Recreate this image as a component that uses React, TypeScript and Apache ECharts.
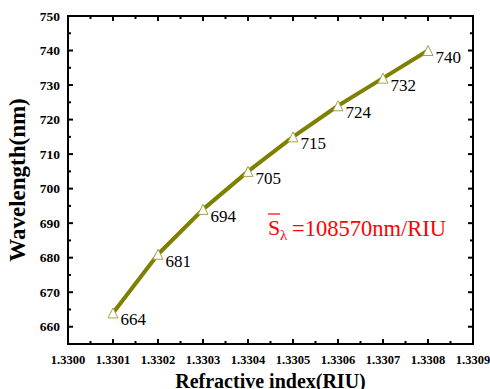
import React, { useEffect, useRef } from "react";
import * as echarts from "echarts";

const refractiveIndex = [1.3301, 1.3302, 1.3303, 1.3304, 1.3305, 1.3306, 1.3307, 1.3308];
const wavelength = [664, 681, 694, 705, 715, 724, 732, 740];
const xMajorTicks = [1.33, 1.3301, 1.3302, 1.3303, 1.3304, 1.3305, 1.3306, 1.3307, 1.3308, 1.3309];
const xMinorTicks = [1.33005, 1.33015, 1.33025, 1.33035, 1.33045, 1.33055, 1.33065, 1.33075, 1.33085];
const yMajorTicks = [660, 670, 680, 690, 700, 710, 720, 730, 740, 750];
const yMinorTicks = [665, 675, 685, 695, 705, 715, 725, 735, 745];
const xTitle = "Refractive index(RIU)";
const yTitle = "Wavelength(nm)";
const sensitivityText = "=108570nm/RIU";

const X_MIN = 1.33;
const X_MAX = 1.3309;
const Y_MIN = 655;
const Y_MAX = 750;

const FONT = "Times New Roman, Liberation Serif, serif";
const INK = "#000000";

export default function App() {
  const ref = useRef<HTMLDivElement>(null);
  useEffect(() => {
    if (!ref.current) return;
    const chart = echarts.init(ref.current, null, { renderer: "svg" });
    const pts = refractiveIndex.map((x, i) => [x, wavelength[i]]);

    const frameAndTicks = (_params: any, api: any) => {
      const tl = api.coord([X_MIN, Y_MAX]);
      const br = api.coord([X_MAX, Y_MIN]);
      const children: any[] = [
        {
          type: "rect",
          shape: { x: tl[0], y: tl[1], width: br[0] - tl[0], height: br[1] - tl[1] },
          style: { fill: "none", stroke: INK, lineWidth: 2 },
          z2: 50,
        },
      ];
      const seg = (x1: number, y1: number, x2: number, y2: number) =>
        children.push({ type: "line", shape: { x1, y1, x2, y2 }, style: { stroke: INK, lineWidth: 2 }, z2: 50 });
      const xt = (vals: number[], len: number) =>
        vals.forEach((v) => {
          const px = api.coord([v, Y_MIN])[0];
          seg(px, br[1], px, br[1] - len);
          seg(px, tl[1], px, tl[1] + len);
        });
      const yt = (vals: number[], len: number) =>
        vals.forEach((v) => {
          const py = api.coord([X_MIN, v])[1];
          seg(tl[0], py, tl[0] + len, py);
          seg(br[0], py, br[0] - len, py);
        });
      xt(xMajorTicks.slice(1, -1), 5);
      xt(xMinorTicks, 3);
      yt(yMajorTicks.slice(0, -1), 5);
      yt(yMinorTicks, 3);
      return { type: "group", children };
    };

    chart.setOption({
      animation: false,
      grid: {
        left: 68,
        right: 17,
        top: 16,
        bottom: 45,
        containLabel: false,
        outerBoundsMode: "none",
        show: true,
        borderColor: INK,
        borderWidth: 2,
        z: 6,
      },
      xAxis: {
        type: "value",
        min: X_MIN,
        max: X_MAX,
        interval: 0.0001,
        axisLine: { show: false },
        axisTick: { show: false },
        splitLine: { show: false },
        axisLabel: {
          formatter: (v: number) => v.toFixed(4),
          fontFamily: FONT,
          fontWeight: "bold",
          fontSize: 12.5,
          color: "#000",
          margin: 9,
          hideOverlap: false,
        },
        name: xTitle,
        nameLocation: "middle",
        nameGap: 22,
        nameTextStyle: { fontFamily: FONT, fontWeight: "bold", fontSize: 20, color: "#000" },
      },
      yAxis: {
        type: "value",
        min: Y_MIN,
        max: Y_MAX,
        axisLine: { show: false },
        axisTick: { show: false },
        splitLine: { show: false },
        axisLabel: {
          customValues: yMajorTicks,
          fontFamily: FONT,
          fontWeight: "bold",
          fontSize: 13.5,
          color: "#000",
          margin: 8,
        },
        name: yTitle,
        nameLocation: "middle",
        nameGap: 36,
        nameTextStyle: { fontFamily: FONT, fontWeight: "bold", fontSize: 23, color: "#000" },
      },
      series: [
        {
          type: "line",
          data: pts,
          lineStyle: { color: "#808000", width: 4 },
          symbol: "triangle",
          symbolSize: 10,
          itemStyle: { color: "#fff", borderColor: "#a3a34a", borderWidth: 1 },
          label: {
            show: true,
            position: "right",
            distance: 2,
            offset: [0, 7],
            formatter: (p: any) => String(p.value[1]),
            fontFamily: FONT,
            fontSize: 17,
            color: "#000",
          },
          z: 3,
        },
        {
          type: "custom",
          data: [[X_MIN, Y_MIN]],
          renderItem: frameAndTicks,
          silent: true,
          clip: false,
          z: 6,
        },
      ],
      graphic: [
        {
          type: "text",
          x: 268,
          y: 227,
          style: { text: "S", font: `22px ${FONT}`, fill: "#ff0000", verticalAlign: "middle", align: "left" },
        },
        {
          type: "line",
          shape: { x1: 268, y1: 214, x2: 280, y2: 214 },
          style: { stroke: "#ff0000", lineWidth: 1.2 },
        },
        {
          type: "text",
          x: 280,
          y: 235,
          style: { text: "λ", font: `15px ${FONT}`, fill: "#ff0000", verticalAlign: "middle", align: "left" },
        },
        {
          type: "text",
          x: 292,
          y: 228,
          style: { text: sensitivityText, font: `22.5px ${FONT}`, fill: "#ff0000", verticalAlign: "middle", align: "left" },
        },
      ],
    });
    return () => chart.dispose();
  }, []);
  return <div ref={ref} style={{ position: "fixed", left: 0, top: 0, width: 490, height: 389, background: "#fff" }} />;
}
